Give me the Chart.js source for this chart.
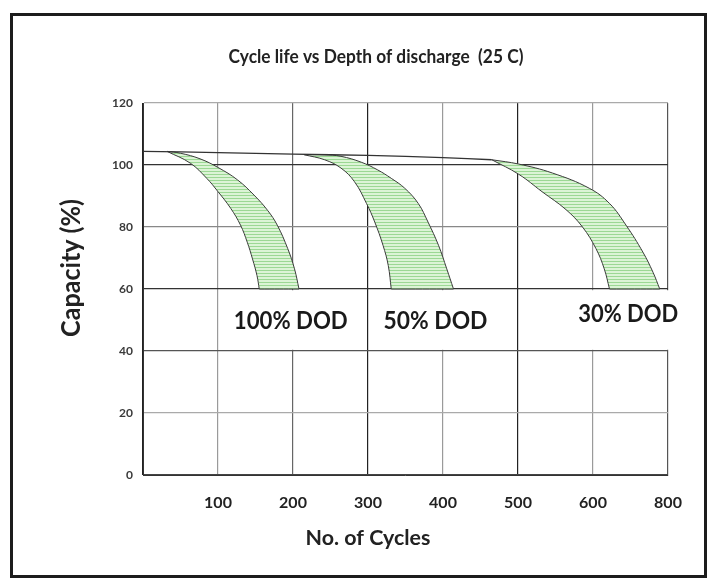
<!DOCTYPE html>
<html>
<head>
<meta charset="utf-8">
<script src="https://cdn.jsdelivr.net/npm/chart.js@4"></script>
<style>
  html, body { margin: 0; padding: 0; background: #fff; }
  #wrap { position: relative; width: 711px; height: 581px; }
  #frame { position: absolute; left: 10px; top: 13px; width: 691px; height: 559px; border: 3px solid #1c1c1c; pointer-events: none; }
  canvas { position: absolute; left: 0; top: 0; }
</style>
</head>
<body>
<div id="wrap">
  <canvas id="chart" width="711" height="581"></canvas>
  <div id="frame"></div>
</div>
<script>
// x axis is not linear in cycles: ticks are evenly spaced, the last step is 600 -> 800
const xTickLabels = ['', '100', '200', '300', '400', '500', '600', '800'];
const yTickStep = 20;

// upper envelope (fresh capacity, slowly falling)
const envCycles = [0, 100, 200, 300, 400, 465];
const envCap    = [104.4, 104.0, 103.5, 103.1, 102.4, 101.7];

// 100% DOD band
const outer100Cycles = [32, 50, 76, 100, 126, 148, 166, 179, 193, 202, 208];
const outer100Cap    = [104.4, 103.8, 102.0, 99.2, 95.2, 90.3, 85.4, 80.6, 73.0, 66.5, 60];
const inner100Cycles = [32, 63, 85, 100, 117, 130, 139, 146, 152, 155];
const inner100Cap    = [104.4, 100.6, 95.7, 91.4, 86.0, 80.6, 75.1, 69.7, 64.3, 60];

// 50% DOD band
const outer50Cycles = [215, 242, 264, 291, 313, 331, 349, 367, 380, 394, 405, 414];
const outer50Cap    = [103.3, 103.3, 102.8, 100.9, 98.4, 95.7, 92.5, 87.6, 81.6, 74.1, 66.5, 60];
const inner50Cycles = [215, 242, 264, 282, 298, 309, 320, 327, 331];
const inner50Cap    = [103.3, 101.7, 99.0, 94.6, 87.6, 81.6, 74.1, 67.6, 60];

// 30% DOD band
const outer30Cycles = [465, 501, 546, 595, 644, 688, 733, 760, 778];
const outer30Cap    = [101.7, 100.3, 97.4, 92.5, 87.6, 80.6, 71.9, 65.4, 60];
const inner30Cycles = [465, 501, 532, 564, 586, 608, 630, 644];
const inner30Cap    = [101.7, 97.0, 91.4, 85.6, 80.0, 73.0, 66.5, 60];

const dodLabels = ['100% DOD', '50% DOD', '30% DOD'];
const chartTitle = 'Cycle life vs Depth of discharge  (25 C)';
const xTitle = 'No. of Cycles';
const yTitle = 'Capacity (%)';

// label placement: centre x / baseline in axis units, wanted width and cap height in px,
// and the white patch (axis units) that hides the grid behind each label
const labelSpots = [
  {x: 1.97, y: 47.2, w: 114, cap: 18, box: [1.15, 2.85, 40.4, 59.6]},
  {x: 3.90, y: 47.2, w: 104, cap: 18, box: [3.10, 4.85, 40.4, 59.6]},
  {x: 6.47, y: 49.2, w: 100, cap: 18, box: [5.60, 7.05, 40.4, 59.6]},
];

function toPos(c) { return c <= 600 ? c / 100 : 6 + (c - 600) / 200; }
function pts(cycles, caps) { return cycles.map((c, i) => ({x: toPos(c), y: caps[i]})); }
function band(oc, ov, ic, iv) {
  const outer = pts(oc, ov), inner = pts(ic, iv).reverse();
  // bottom corners repeated so the spline stays sharp there
  return outer.concat([outer[outer.length - 1], inner[0]], inner);
}

function hatch() {
  const c = document.createElement('canvas');
  c.width = 6; c.height = 3;
  const g = c.getContext('2d');
  g.fillStyle = '#dcf4d6'; g.fillRect(0, 0, 6, 3);
  g.fillStyle = '#9cd894'; g.fillRect(0, 0, 6, 1);
  return g.createPattern(c, 'repeat');
}
const pattern = hatch();

function bandSet(data) {
  return {
    data,
    fill: 'shape',
    backgroundColor: pattern,
    borderColor: '#3b3b3b',
    borderWidth: 1,
    pointRadius: 0,
    tension: 0.4,
  };
}

const xGridColors = ['#222', '#9a9a9a', '#666', '#222', '#9a9a9a', '#222', '#9a9a9a', '#555'];
const yGridColors = {0: '#444', 20: '#aaa', 40: '#555', 60: '#333', 80: '#888', 100: '#333', 120: '#aaa'};

// text sized to a wanted width, stretched to a wanted cap height
function fitText(ctx, text, cx, base, width, cap, rotate) {
  ctx.save();
  ctx.font = 'bold 20px Lato';
  const size = 20 * width / ctx.measureText(text).width;
  ctx.font = 'bold ' + size + 'px Lato';
  ctx.translate(cx, base);
  if (rotate) ctx.rotate(-Math.PI / 2);
  ctx.scale(1, cap / (0.72 * size));
  ctx.textAlign = 'center';
  ctx.textBaseline = 'alphabetic';
  ctx.fillText(text, 0, 0);
  ctx.restore();
}

const textLayer = {
  id: 'textLayer',
  afterDraw(chart) {
    const {ctx, scales: {x, y}} = chart;
    ctx.save();
    labelSpots.forEach((s, i) => {
      const l = x.getPixelForValue(s.box[0]), r = x.getPixelForValue(s.box[1]);
      const b = y.getPixelForValue(s.box[2]), t = y.getPixelForValue(s.box[3]);
      ctx.fillStyle = '#fff';
      ctx.fillRect(l, t, r - l, b - t);
      ctx.fillStyle = '#1a1a1a';
      fitText(ctx, dodLabels[i], x.getPixelForValue(s.x), y.getPixelForValue(s.y), s.w, s.cap);
    });
    ctx.fillStyle = '#222';
    fitText(ctx, chartTitle, 376, 63, 295, 13);
    fitText(ctx, xTitle, 368, 545, 125, 15);
    fitText(ctx, yTitle, 80, 268, 138, 19, true);
    ctx.restore();
  }
};

new Chart(document.getElementById('chart'), {
  type: 'line',
  data: {
    datasets: [
      {data: pts(envCycles, envCap), borderColor: '#333', borderWidth: 1.3, pointRadius: 0, fill: false, tension: 0.3},
      bandSet(band(outer100Cycles, outer100Cap, inner100Cycles, inner100Cap)),
      bandSet(band(outer50Cycles, outer50Cap, inner50Cycles, inner50Cap)),
      bandSet(band(outer30Cycles, outer30Cap, inner30Cycles, inner30Cap)),
    ]
  },
  options: {
    responsive: false,
    animation: false,
    layout: {padding: {left: 0, right: 43, top: 103, bottom: 0}},
    plugins: {
      legend: {display: false},
      tooltip: {enabled: false},
      title: {display: false},
    },
    scales: {
      x: {
        type: 'linear',
        min: 0, max: 7,
        afterFit: s => { s.height = 106; },
        ticks: {
          stepSize: 1,
          padding: 18,
          color: '#222',
          font: {family: 'Lato', size: 16, weight: 'bold'},
          callback: v => xTickLabels[v],
        },
        grid: {
          drawTicks: false,
          color: c => xGridColors[c.tick.value],
          lineWidth: 1.2,
        },
        border: {color: '#333'},
      },
      y: {
        min: 0, max: 120,
        afterFit: s => { s.width = 143; },
        ticks: {
          stepSize: yTickStep,
          padding: 10,
          color: '#3a3a3a',
          font: {family: 'Lato', size: 12, weight: 'bold'},
        },
        grid: {
          drawTicks: false,
          color: c => yGridColors[c.tick.value],
          lineWidth: 1.2,
        },
        border: {color: '#333'},
      },
    },
  },
  plugins: [textLayer],
});
</script>
</body>
</html>
